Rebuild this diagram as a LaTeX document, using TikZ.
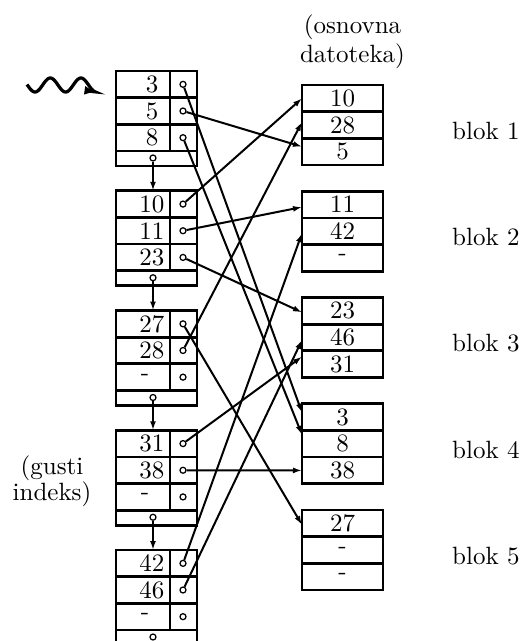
\documentclass[tikz,border=0pt]{standalone}
\usetikzlibrary{arrows.meta,calc}
\newcommand{\ys}[1]{\scalebox{1}[1.1]{#1}}
\begin{document}
\begin{tikzpicture}[x=0.4pt,y=-0.4pt,
  box/.style={draw,line width=1.1pt,inner sep=0pt,outer sep=0pt},
  keycell/.style={box,minimum width=21.6pt,minimum height=10.67pt},
  ptrcell/.style={box,minimum width=10.8pt,minimum height=10.67pt},
  stripcell/.style={box,minimum width=32.4pt,minimum height=6pt},
  drow/.style={box,minimum width=32.4pt,minimum height=10.67pt},
  ptr/.style={circle,draw,line width=0.5pt,inner sep=0pt,minimum size=2.4pt},
  conn/.style={line width=0.8pt,-{Latex[length=3.6pt,width=2.4pt]}},
  txt/.style={inner sep=0pt}]
\useasboundingbox (0,0) rectangle (523,641);

% ---------- index blocks ----------
\foreach \b/\ka/\kb/\kc/\xc in {1/3/5/8/152, 2/10/11/23/152, 3/27/28/-/145, 4/31/38/-/145, 5/42/46/-/145}{
  \pgfmathsetmacro{\T}{71+119.75*(\b-1)}
  \foreach \r/\k/\xk in {1/\ka/152, 2/\kb/152, 3/\kc/\xc}{
    \pgfmathsetmacro{\yc}{\T+26.667*(\r-0.5)}
    \node[keycell] (k\b-\r) at (143,\yc) {};
    \node[ptrcell] (p\b-\r) at (183.5,\yc) {};
    \node[ptr] (c\b-\r) at (183,\yc) {};
    \node[txt] (t\b-\r) at (\xk,\yc) {\k};
  }
  \node[stripcell] (s\b) at (156.5,\T+87.5) {};
  \node[ptr] (sc\b) at (153,\T+87) {};
}
\foreach \b/\n in {1/2,2/3,3/4,4/5}{
  \draw[conn] (sc\b) -- (sc\b |- k\n-1.north);
}

% ---------- data file blocks ----------
\foreach \j/\va/\vb/\vc in {1/10/28/5, 2/11/42/x2, 3/23/46/31, 4/3/8/38, 5/27/x5a/x5b}{
  \pgfmathsetmacro{\D}{85+106.25*(\j-1)}
  \foreach \r/\v in {1/\va, 2/\vb, 3/\vc}{
    \pgfmathsetmacro{\yc}{\D+26.667*(\r-0.5)}
    \node[drow] (d\v) at (342.5,\yc) {\ifnum0<0\v\relax\v\else-\fi};
  }
  \node[txt,anchor=base west] (blok\j) at (451.7,139.3+106.25*\j-106.25) {blok \j};
}

% ---------- pointers ----------
\draw[conn] (c1-1) -- ([yshift=1.8pt]d3.west);
\draw[conn] (c1-2) -- ([yshift=2pt]d5.west);
\draw[conn] (c1-3) -- ([yshift=3.6pt]d8.west);
\draw[conn] (c2-1) -- (d10.west);
\draw[conn] (c2-2) -- ([yshift=-1pt]d11.west);
\draw[conn] (c2-3) -- ([yshift=-0.6pt]d23.west);
\draw[conn] (c3-1) -- ([yshift=-0.6pt]d27.west);
\draw[conn] (c3-2) -- ([yshift=1.2pt]d28.west);
\draw[conn] (c4-1) -- ([yshift=3pt]d31.west);
\draw[conn] (c4-2) -- (d38.west);
\draw[conn] (c5-1) -- ([yshift=-0.8pt]d42.west);
\draw[conn] (c5-2) -- ([yshift=-1pt]d46.west);

% ---------- labels ----------
\node[txt,anchor=base] (os1) at (352.5,33) {(osnovna};
\node[txt,anchor=base] (os2) at (352.5,62) {datoteka)};
\node[txt,anchor=base] (gi1) at (52,474) {(gusti};
\node[txt,anchor=base] (gi2) at (52,500) {indeks)};

% ---------- squiggle ----------
\draw[line width=1.3pt,-{Latex[length=4.6pt,width=3.6pt]}]
  plot[domain=27:96,samples=80,smooth] (\x,{85+7*sin(90+(\x-35)*11.76)});
\end{tikzpicture}
\end{document}
